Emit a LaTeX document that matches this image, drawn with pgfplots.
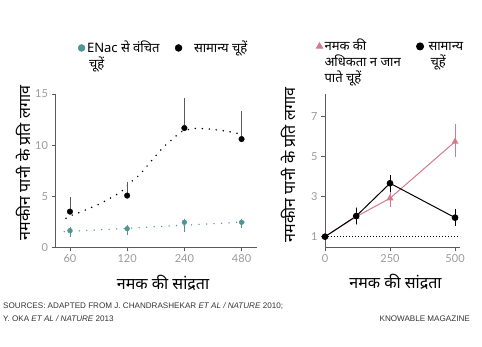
\documentclass[border=0pt]{standalone}
\usepackage{pgfplots}
\pgfplotsset{compat=1.18}
\usepackage{fontspec}
\setmainfont{Noto Sans}[Script=Devanagari]
\newfontfamily\tickfont{Lato}
\newfontfamily\footfont{Liberation Sans}
\definecolor{teal1}{HTML}{4E9593}
\definecolor{pink1}{HTML}{D27B8B}
\definecolor{ticklbl}{HTML}{9A9A9A}
\definecolor{axisgray}{HTML}{5A5A5A}
\pgfplotsset{
  common/.style={
    scale only axis,
    axis x line=bottom, axis y line=left,
    axis line style={-, axisgray, line width=0.9pt},
    tick align=outside, major tick length=4pt,
    minor tick num=0,
    tick style={axisgray, line width=0.8pt},
    tick label style={font=\tickfont\fontsize{11}{11}\selectfont, text=ticklbl},
    /pgf/number format/assume math mode=true,
    label style={font=\fontsize{16}{16}\selectfont},
    clip=false,
    legend cell align=left,
    legend columns=2,
    legend image code/.code={\draw[##1, mark size=3.5pt] plot coordinates {(0pt,4.5pt)};},
    legend style={draw=none, fill=none, inner sep=0pt, outer sep=0pt,
      font=\fontsize{13}{16}\selectfont, anchor=north west,
      cells={anchor=base west}},
  },
}
\begin{document}
\begin{tikzpicture}
\path[use as bounding box] (0pt,0pt) rectangle (482pt,346pt);

% ---------------- left chart ----------------
\begin{axis}[common,
  at={(55.5pt,98.7pt)}, anchor=south west,
  width=201.5pt, height=153.3pt,
  xmin=-0.253, xmax=3.27, ymin=0, ymax=15,
  xtick={0,1,2,3}, xticklabels={60,120,240,480},
  ytick={0,5,10,15},
  ylabel={नमकीन पानी के प्रति लगाव},
  ylabel style={at={(axis description cs:-0.161,0.55)}, anchor=center},
  xlabel={नमक की सांद्रता},
  xlabel style={at={(axis description cs:0.534,-0.233)}, anchor=center},
  legend style={at={(axis description cs:0.112,1.36)}},
]
% fitted curves (dotted)
\addplot[black, line width=1.7pt, line cap=round, dash pattern=on 0pt off 7pt, smooth, forget plot]
 coordinates {(-0.07,2.84) (0.04,3.16) (0.175,3.42) (0.30,3.72) (0.42,4.0) (0.55,4.33) (0.67,4.7) (0.79,5.08) (0.90,5.47) (1.11,6.6) (1.22,7.1) (1.43,8.5) (1.64,9.84) (1.74,10.33) (1.84,10.82) (1.95,11.31) (2.09,11.55) (2.21,11.64) (2.34,11.6) (2.48,11.55) (2.61,11.45) (2.75,11.35) (2.88,11.2) (3.02,11.08)};
\addplot[teal1, line width=1.5pt, line cap=round, dash pattern=on 0pt off 7.5pt, forget plot]
 coordinates {(-0.1,1.53) (3.13,2.5)};
% teal points
\addplot[only marks, mark=*, mark size=2.4pt, teal1, mark options={draw=teal1, fill=teal1},
  error bars/.cd, y dir=both, y explicit,
  error bar style={teal1, line width=0.8pt},
  error mark options={teal1, mark size=2.5pt, line width=0.9pt}]
 coordinates {(0,1.63) += (0,0.15) -= (0,0.36)
              (1,1.82) += (0,0.12) -= (0,0.39)
              (2,2.45) += (0,0.1) -= (0,0.66)
              (3,2.45) += (0,0.1) -= (0,0.33)};
\addlegendentry{\parbox[t]{86pt}{ENac से वंचित\\\hspace*{2pt}चूहें}}
% black points
\addplot[only marks, mark=*, mark size=2.8pt, black,
  error bars/.cd, y dir=plus, y explicit,
  error bar style={axisgray, line width=0.8pt},
  error mark options={axisgray, mark size=3pt, line width=0.9pt}]
 coordinates {(0,3.49) +- (0,1.15) (1,5.06) +- (0,1.08) (2,11.67) +- (0,2.6) (3,10.59) +- (0,2.48)};
\addlegendentry{\parbox[t]{90pt}{\hspace*{10pt}सामान्य चूहें}}
\end{axis}

% ---------------- right chart ----------------
\begin{axis}[common,
  at={(325pt,98.7pt)}, anchor=south west,
  width=135pt, height=153.3pt,
  xmin=0, xmax=519, ymin=0.47, ymax=8.13,
  xtick={0,250,500}, ytick={1,3,5,7},
  ylabel={नमकीन पानी के प्रति लगाव},
  ylabel style={at={(axis description cs:-0.274,0.537)}, anchor=center},
  xlabel={नमक की सांद्रता},
  xlabel style={at={(axis description cs:0.522,-0.226)}, anchor=center},
  legend style={at={(axis description cs:-0.063,1.37)}},
]
\addplot[black, line width=0.9pt, dash pattern=on 1pt off 2pt, forget plot]
 coordinates {(0,1) (519,1)};
\addplot[pink1, line width=1pt, mark=triangle*, mark size=3pt, mark options={fill=pink1, draw=pink1},
  error bars/.cd, y dir=both, y explicit,
  error bar style={pink1, line width=0.8pt},
  error mark options={pink1, mark size=2.5pt, line width=0.9pt}]
 coordinates {(0,1.0) +- (0,0)
              (120,2.0) += (0,0.35) -= (0,0.3)
              (250,2.92) += (0,0.33) -= (0,0.3)
              (500,5.75) += (0,0.75) -= (0,0.63)};
\addlegendentry{\parbox[t]{90pt}{नमक की\\अधिकता न जान\\पाते चूहें}}
\addplot[black, line width=1pt, mark=*, mark size=2.8pt,
  error bars/.cd, y dir=both, y explicit,
  error bar style={black, line width=0.8pt},
  error mark options={black, mark size=2.5pt, line width=0.9pt}]
 coordinates {(0,1.0) +- (0,0)
              (120,2.03) += (0,0.27) -= (0,0.28)
              (250,3.67) += (0,0.3) -= (0,0.3)
              (500,1.95) += (0,0.33) -= (0,0.3)};
\addlegendentry{\parbox[t]{45pt}{\hspace*{3pt}सामान्य\\\hspace*{5pt}चूहें}}
\end{axis}

% ---------------- footer ----------------
\node[anchor=west, inner sep=0pt, text=black!80, font=\footfont\fontsize{8.1}{9}\selectfont] at (3pt,40pt)
 {SOURCES: ADAPTED FROM J. CHANDRASHEKAR \textit{ET AL / NATURE} 2010;};
\node[anchor=west, inner sep=0pt, text=black!80, font=\footfont\fontsize{8.1}{9}\selectfont] at (3pt,27pt)
 {Y. OKA \textit{ET AL / NATURE} 2013};
\node[anchor=east, inner sep=0pt, text=black!80, font=\footfont\fontsize{8.1}{9}\selectfont] at (470pt,27pt)
 {KNOWABLE MAGAZINE};
\end{tikzpicture}
\end{document}
